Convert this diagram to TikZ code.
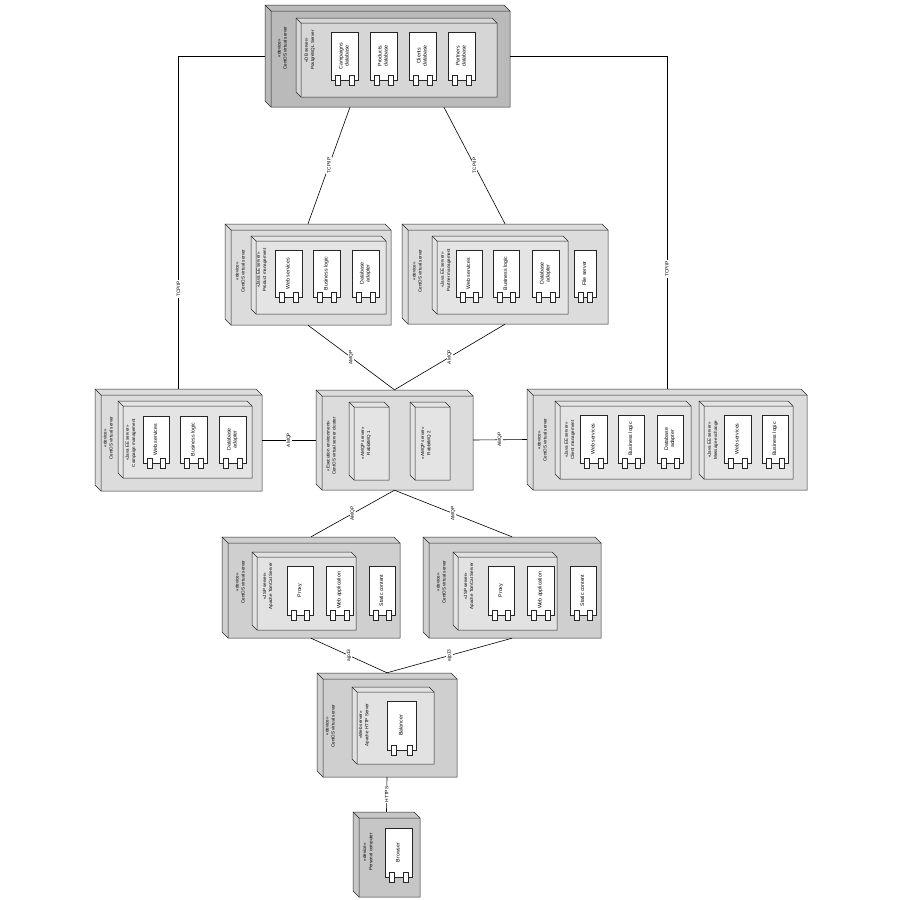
\documentclass[tikz,border=0pt]{standalone}
\usepackage{fontspec}
\setmainfont{Liberation Sans}
\usepackage{graphicx}
\usetikzlibrary{calc}
\definecolor{dbout}{HTML}{BABABA}
\definecolor{dbin}{HTML}{D6D6D6}
\definecolor{midout}{HTML}{DCDCDC}
\definecolor{midin}{HTML}{E4E4E4}
\definecolor{webout}{HTML}{CFCFCF}
\definecolor{webin}{HTML}{E2E2E2}
\definecolor{pcout}{HTML}{C6C6C6}
\tikzset{
  bline/.style={draw=black!85, line width=0.5pt},
  conn/.style={draw=black, line width=0.6pt},
  lbl/.style={rotate=90, align=center, font=\fontsize{4.5}{6.2}\selectfont, inner sep=0},
  clbl/.style={fill=white, rotate=90, font=\fontsize{4.8}{5.5}\selectfont, inner sep=0.8pt},
  compbox/.style={draw=black!85, fill=white, line width=0.5pt, inner sep=0, font=\fontsize{5.2}{6}\selectfont},
  port/.style={draw=black!85, fill=white, line width=0.5pt}
}
\newcommand\rtxt[1]{\rotatebox{90}{\begin{tabular}{@{}c@{}}#1\end{tabular}}}
% name, x1, y1, x2, y2, depth, fill
\newcommand\devbox[7]{%
  \filldraw[bline, fill=#7] (#2,#3) -- ({#4-#6},#3) -- (#4,{#3+#6}) -- (#4,#5) -- ({#2+#6},#5) -- (#2,{#5-#6}) -- cycle;
  \draw[bline] ({#2+#6},#5) -- ({#2+#6},{#3+#6}) -- (#4,{#3+#6}) (#2,#3) -- ({#2+#6},{#3+#6});
  \node[inner sep=0, minimum width={(#4-#2)*1pt}, minimum height={(#5-#3)*1pt}] (#1) at ({(#2+#4)/2},{(#3+#5)/2}) {};
}
% name, x1, y1, x2, y2, text
\newcommand\cmpnt[6]{%
  \node[compbox, minimum width={(#4-#2)*1pt}, minimum height={(#5-#3)*1pt}] (#1) at ({(#2+#4)/2},{(#3+#5)/2}) {\rtxt{#6}};
  \draw[port] ([xshift=4pt,yshift=5pt]#1.south west) rectangle ++(5pt,-10pt);
  \draw[port] ([xshift=-9pt,yshift=5pt]#1.south east) rectangle ++(5pt,-10pt);
}
\begin{document}
\begin{tikzpicture}[x=1pt, y=-1pt]
\fill[white] (0,0) rectangle (900,900);
\useasboundingbox (0,0) rectangle (900,900);

% ---- DB server ----
\devbox{db}{265}{5}{510}{107}{6}{dbout}
\devbox{dbs}{296}{18}{497}{97}{5}{dbin}
\cmpnt{cdb}{331}{32}{358}{80}{Campaigns\\database}
\cmpnt{pdb}{370}{32}{397}{80}{Products\\database}
\cmpnt{kdb}{409}{32}{436}{80}{Clients\\database}
\cmpnt{rdb}{448}{32}{475}{80}{Partners\\database}
\node[lbl] (dbt) at (282,48) {«device»\\CentOS virtual server};
\node[lbl] (dbst) at (310,50) {«DB server»\\PostgreSQL Server};

% ---- Product management ----
\devbox{prod}{225}{224}{391}{325}{6}{midout}
\devbox{prods}{251}{236}{386}{314}{5}{midin}
\cmpnt{pws}{275}{250}{302}{297}{Web services}
\cmpnt{pbl}{313}{250}{340}{297}{Business logic}
\cmpnt{pda}{352}{250}{379}{297}{Database\\adapter}
\node[lbl] (prodt) at (240,271) {«device»\\CentOS virtual server};
\node[lbl] (prodst) at (262,270) {«Java EE server»\\Product management};

% ---- Partner management ----
\devbox{part}{402}{224}{608}{324}{6}{midout}
\devbox{parts}{432}{236}{568}{314}{5}{midin}
\cmpnt{aws}{456}{250}{482}{297}{Web services}
\cmpnt{abl}{493}{250}{519}{297}{Business logic}
\cmpnt{ada}{532}{250}{559}{297}{Database\\adapter}
\cmpnt{afs}{574}{250}{596}{297}{File server}
\node[lbl] (partt) at (417,271) {«device»\\CentOS virtual server};
\node[lbl] (partst) at (446,270) {«Java EE server»\\Partner management};

% ---- Campaign management ----
\devbox{camp}{95}{389}{262}{491}{6}{midout}
\devbox{camps}{118}{401}{252}{478}{5}{midin}
\cmpnt{cws}{143}{416}{169}{463}{Web services}
\cmpnt{cbl}{180}{416}{207}{463}{Business logic}
\cmpnt{cda}{219}{416}{246}{463}{Database\\adapter}
\node[lbl] (campt) at (108,438) {«device»\\CentOS virtual server};
\node[lbl] (campst) at (131,443) {«Java EE server»\\Campaign management};

% ---- RabbitMQ cluster ----
\devbox{clu}{316}{390}{473}{490}{6}{midout}
\devbox{rmq}{349}{402}{389}{480}{5}{midin}
\devbox{rmqb}{410}{402}{450}{480}{5}{midin}
\node[lbl] (clut) at (331,446) {«Execution environment»\\CentOS virtual server cluster};
\node[lbl] (rmqt) at (366,443) {«AMQP server»\\RabbitMQ 1};
\node[lbl] (rmqbt) at (426,443) {«AMQP server»\\RabbitMQ 2};

% ---- Client management / Message exchange ----
\devbox{cli}{527}{389}{807}{490}{6}{midout}
\devbox{clis}{555}{401}{691}{479}{5}{midin}
\cmpnt{kws}{580}{415}{607}{463}{Web services}
\cmpnt{kbl}{618}{415}{644}{463}{Business logic}
\cmpnt{kda}{657}{415}{683}{463}{Database\\adapter}
\devbox{msg}{699}{401}{793}{479}{5}{midin}
\cmpnt{mws}{724}{415}{751}{463}{Web services}
\cmpnt{mbl}{762}{415}{788}{463}{Business logic}
\node[lbl] (clit) at (542,440) {«device»\\CentOS virtual server};
\node[lbl] (clist) at (570,440) {«Java EE server»\\Client management};
\node[lbl] (msgt) at (713,440) {«Java EE server»\\Message exchange};

% ---- Tomcat 1 ----
\devbox{tca}{222}{537}{400}{638}{6}{webout}
\devbox{tcas}{252}{552}{356}{630}{5}{webin}
\cmpnt{tpx}{287}{566}{313}{615}{Proxy}
\cmpnt{twa}{326}{566}{353}{615}{Web application}
\cmpnt{tsc}{369}{566}{395}{615}{Static content}
\node[lbl] (tcat) at (240,582) {«device»\\CentOS virtual server};
\node[lbl] (tcast) at (268,586) {«JSP server»\\Apache TomCat Server};

% ---- Tomcat 2 ----
\devbox{tcb}{423}{537}{601}{638}{6}{webout}
\devbox{tcbs}{453}{552}{557}{630}{5}{webin}
\cmpnt{upx}{488}{566}{514}{615}{Proxy}
\cmpnt{uwa}{527}{566}{554}{615}{Web application}
\cmpnt{usc}{570}{566}{596}{615}{Static content}
\node[lbl] (tcbt) at (441,582) {«device»\\CentOS virtual server};
\node[lbl] (tcbst) at (469,586) {«JSP server»\\Apache TomCat Server};

% ---- HTTP server ----
\devbox{http}{317}{673}{457}{777}{6}{webout}
\devbox{https}{352}{687}{434}{764}{5}{webin}
\cmpnt{bal}{387}{701}{416}{750}{Balancer}
\node[lbl] (httpt) at (330,726) {«device»\\CentOS virtual server};
\node[lbl] (httpst) at (364,725) {«Web server»\\Apache HTTP Server};

% ---- Personal computer ----
\devbox{pc}{353}{812}{420}{897}{6}{pcout}
\cmpnt{brw}{385}{828}{412}{877}{Browser}
\node[lbl] (pct) at (368,852) {«device»\\Personal computer};

% ---- connectors ----
\draw[conn] (db.west) -| node[clbl, pos=0.85] {TCP/IP} (camp.north);
\draw[conn] (db.east) -| node[clbl, pos=0.82] {TCP/IP} (cli.north);
\draw[conn] ($(db.south west)!0.347!(db.south east)$) -- node[clbl] {TCP/IP} (prod.north);
\draw[conn] ($(db.south west)!0.73!(db.south east)$) -- node[clbl] {TCP/IP} (part.north);
\draw[conn] (prod.south) -- node[clbl] {AMQP} (clu.north);
\draw[conn] (part.south) -- node[clbl] {AMQP} (clu.north);
\draw[conn] (camp.east) -- node[clbl] {AMQP} (clu.west);
\draw[conn] (clu.east) -- node[clbl] {AMQP} (cli.west);
\draw[conn] (clu.south) -- node[clbl] {AMQP} (tca.north);
\draw[conn] (clu.south) -- node[clbl] {AMQP} (tcb.north);
\draw[conn] (tca.south) -- node[clbl] {ajp13} (http.north);
\draw[conn] (tcb.south) -- node[clbl] {ajp13} (http.north);
\draw[conn] (http.south) -- node[clbl] {HTTPS} (pc.north);
\end{tikzpicture}
\end{document}
